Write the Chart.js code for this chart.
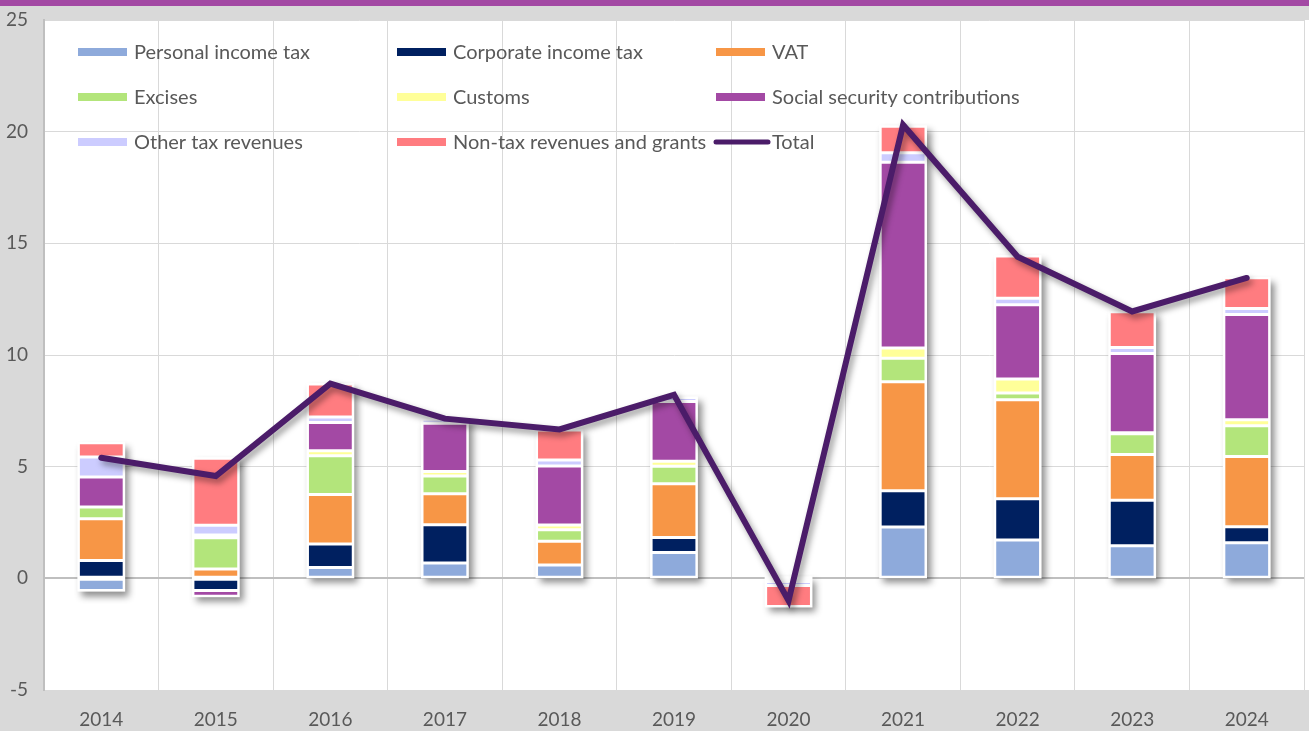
<!DOCTYPE html>
<html>
<head>
<meta charset="utf-8">
<script src="https://cdn.jsdelivr.net/npm/chart.js@4.4.1/dist/chart.umd.min.js"></script>
<style>
  html, body { margin: 0; padding: 0; background: #d9d9d9; }
  #wrap { width: 1309px; height: 731px; position: relative; }
</style>
</head>
<body>
<div id="wrap"><canvas id="myChart"></canvas></div>
<script>
// values (percentage points)
const years = ['2014', '2015', '2016', '2017', '2018', '2019', '2020', '2021', '2022', '2023', '2024'];
const personalIncomeTax = [-0.55, 0, 0.48, 0.69, 0.6, 1.16, -0.04, 2.3, 1.72, 1.46, 1.59];
const corporateIncomeTax = [0.8, -0.55, 1.06, 1.71, 0, 0.67, -0.1, 1.62, 1.84, 2.04, 0.72];
const vat = [1.87, 0.42, 2.21, 1.39, 1.06, 2.41, 0, 4.88, 4.44, 2.04, 3.15];
const excises = [0.52, 1.4, 1.74, 0.79, 0.52, 0.78, 0, 1.06, 0.3, 0.93, 1.37];
const customs = [0, 0.12, 0.22, 0.2, 0.21, 0.22, 0.05, 0.45, 0.63, 0.05, 0.27];
const socialSecurity = [1.35, -0.25, 1.27, 2.16, 2.64, 2.68, 0, 8.32, 3.32, 3.55, 4.71];
const otherTax = [0.89, 0.44, 0.24, 0.18, 0.27, 0.18, -0.18, 0.43, 0.29, 0.27, 0.27];
const nonTax = [0.64, 3.0, 1.48, 0, 1.34, 0, -0.94, 1.18, 1.89, 1.6, 1.38];
const total = [5.4, 4.58, 8.72, 7.15, 6.67, 8.22, -1.0, 20.3, 14.4, 11.95, 13.45];
const yTicks = [-5, 0, 5, 10, 15, 20, 25];

const textColor = '#595959';
Chart.defaults.font.family = 'Lato';

function bar(label, data, color) {
  return {
    type: 'bar', label: label, data: data, backgroundColor: color,
    borderColor: '#ffffff', borderWidth: 1.5, borderSkipped: false,
    stack: 'rev', order: 1, barPercentage: 0.4, categoryPercentage: 1
  };
}

// grey page, purple strip on top, white plot area
const backdrop = {
  id: 'backdrop',
  beforeDraw(chart) {
    const c = chart.ctx, a = chart.chartArea;
    c.save();
    c.fillStyle = '#d9d9d9';
    c.fillRect(0, 0, chart.width, chart.height);
    c.fillStyle = '#a349a4';
    c.fillRect(0, 0, chart.width, 6);
    c.fillStyle = '#ffffff';
    c.fillRect(a.left, a.top, chart.width - a.left, a.bottom - a.top);
    c.restore();
  }
};

// white frame with a soft shadow behind each stacked column
const frames = {
  id: 'frames',
  beforeDatasetsDraw(chart) {
    const c = chart.ctx;
    const metas = chart.getSortedVisibleDatasetMetas().filter(m => m.type === 'bar');
    c.save();
    c.fillStyle = '#ffffff';
    c.shadowColor = 'rgba(0,0,0,0.45)';
    c.shadowBlur = 7;
    c.shadowOffsetX = 4;
    c.shadowOffsetY = 5;
    years.forEach((y, i) => {
      let top = Infinity, bottom = -Infinity, x = 0, w = 0;
      metas.forEach(m => {
        const el = m.data[i];
        top = Math.min(top, el.y, el.base);
        bottom = Math.max(bottom, el.y, el.base);
        x = el.x; w = el.width;
      });
      c.fillRect(x - w / 2 - 1, top - 1, w + 2, bottom - top + 2);
    });
    c.restore();
  },
  beforeDatasetDraw(chart, args) {
    if (args.meta.type === 'line') {
      const c = chart.ctx;
      c.save();
      c.shadowColor = 'rgba(0,0,0,0.4)';
      c.shadowBlur = 6;
      c.shadowOffsetX = 3;
      c.shadowOffsetY = 4;
    }
  },
  afterDatasetDraw(chart, args) {
    if (args.meta.type === 'line') chart.ctx.restore();
  }
};

// legend drawn inside the plot, three columns
const innerLegend = {
  id: 'innerLegend',
  afterDatasetsDraw(chart) {
    const c = chart.ctx;
    const colX = [78, 397, 716];
    const rowY = [52, 97, 142];
    c.save();
    c.font = '20px Lato';
    c.textBaseline = 'middle';
    chart.data.datasets.forEach((ds, i) => {
      const x = colX[i % 3], y = rowY[Math.floor(i / 3)];
      if (ds.type === 'line') {
        c.strokeStyle = ds.borderColor;
        c.lineWidth = 5;
        c.lineCap = 'round';
        c.beginPath();
        c.moveTo(x, y);
        c.lineTo(x + 52, y);
        c.stroke();
        c.fillStyle = textColor;
        c.fillText(ds.label, x + 56, y + 1);
      } else {
        c.fillStyle = ds.backgroundColor;
        c.fillRect(x, y - 4, 49, 8);
        c.fillStyle = textColor;
        c.fillText(ds.label, x + 56, y + 1);
      }
    });
    c.restore();
  }
};

const ctx = document.getElementById('myChart');

new Chart(ctx, {
  data: {
    labels: years,
    datasets: [
      bar('Personal income tax', personalIncomeTax, '#8eaadb'),
      bar('Corporate income tax', corporateIncomeTax, '#002060'),
      bar('VAT', vat, '#f79646'),
      bar('Excises', excises, '#b3e57b'),
      bar('Customs', customs, '#ffff99'),
      bar('Social security contributions', socialSecurity, '#a349a4'),
      bar('Other tax revenues', otherTax, '#ccccff'),
      bar('Non-tax revenues and grants', nonTax, '#ff7c80'),
      {
        type: 'line', label: 'Total', data: total, stack: 'total', order: 0,
        borderColor: '#4b1c69', borderWidth: 6, pointRadius: 0,
        borderCapStyle: 'round', borderJoinStyle: 'miter', tension: 0
      }
    ]
  },
  options: {
    responsive: true,
    maintainAspectRatio: false,
    animation: false,
    layout: { padding: { top: 20, right: 5, left: 0, bottom: 0 } },
    plugins: {
      legend: { display: false },
      tooltip: { enabled: false }
    },
    scales: {
      x: {
        stacked: true,
        afterFit(scale) { scale.height = 41; },
        grid: { color: '#d9d9d9', offset: true, drawTicks: false },
        border: { display: false },
        ticks: { color: textColor, font: { size: 19 }, padding: 18 }
      },
      y: {
        stacked: true,
        min: -5,
        max: 25,
        afterFit(scale) {
          scale.width = 44;
          scale.paddingTop = 0;
          scale.paddingBottom = 0;
        },
        afterBuildTicks(scale) { scale.ticks = yTicks.map(v => ({ value: v })); },
        grid: {
          drawTicks: false,
          color: c => (c.tick && c.tick.value === 0 ? '#bfbfbf' : '#d9d9d9'),
          lineWidth: c => (c.tick && c.tick.value === 0 ? 2 : 1)
        },
        border: { display: true, color: '#bfbfbf', width: 2 },
        ticks: { color: textColor, font: { size: 19 }, padding: 16 }
      }
    }
  },
  plugins: [backdrop, frames, innerLegend]
});
</script>
</body>
</html>
